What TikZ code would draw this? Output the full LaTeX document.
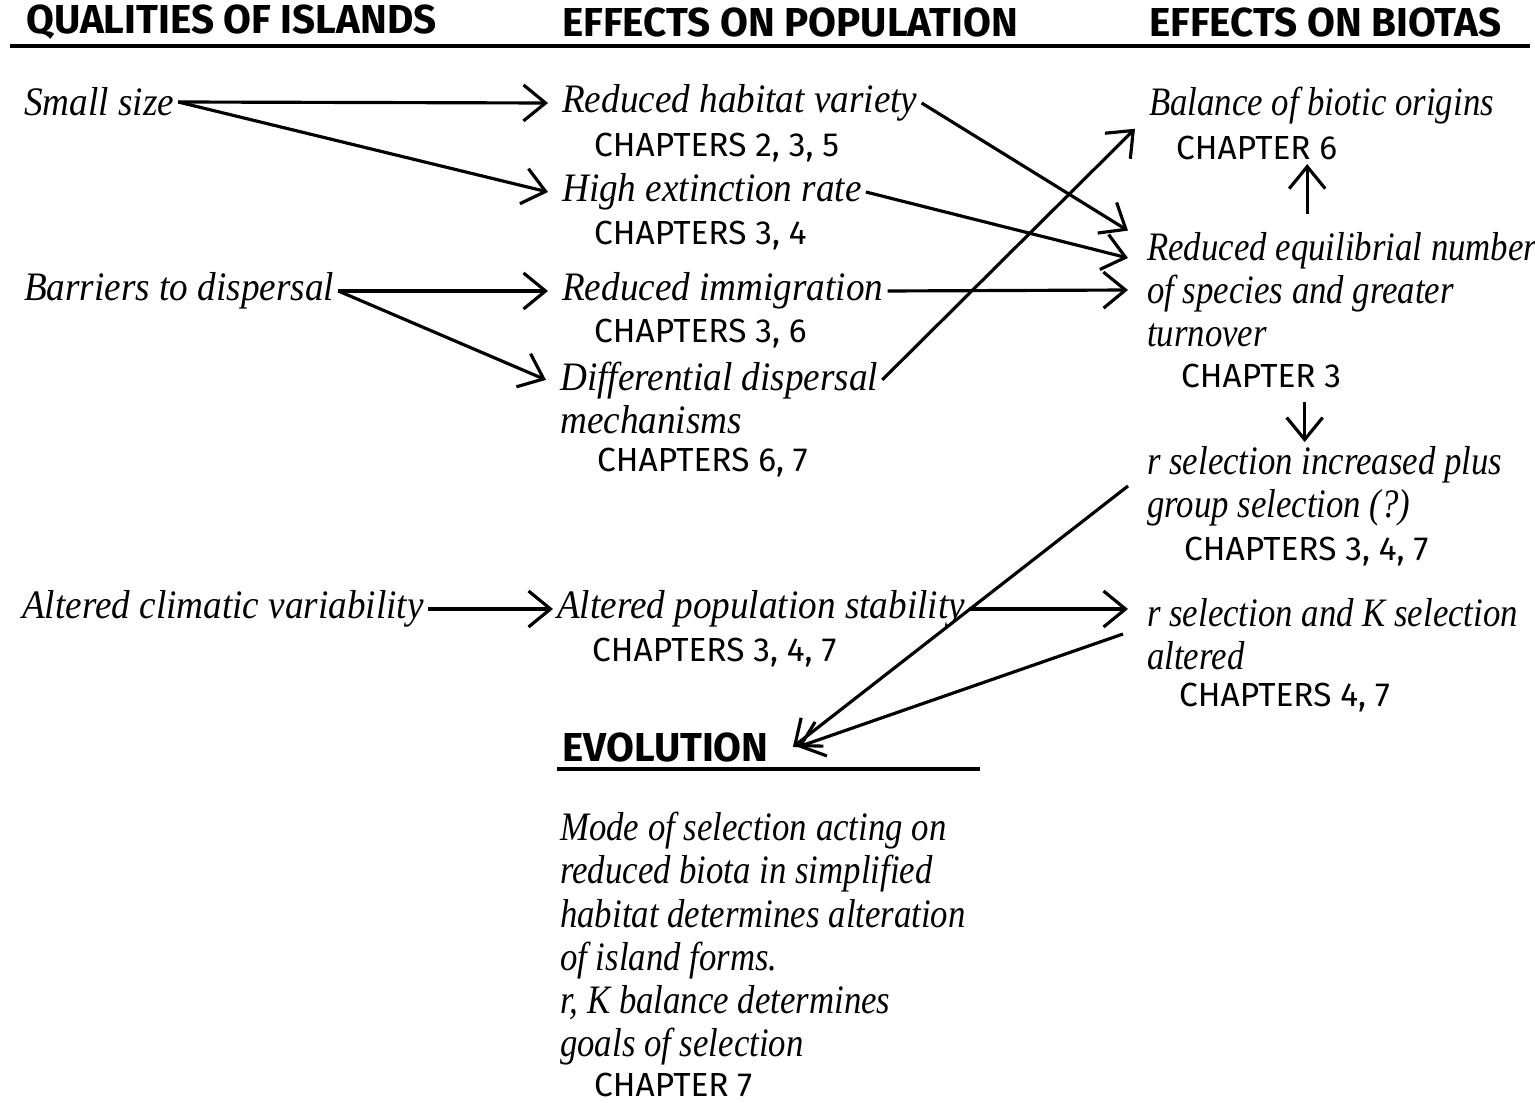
\documentclass[tikz,border=0pt]{standalone}
\usepackage{fontspec}
\newfontfamily\capsfont{Fira Sans}
\newfontfamily\handfont[FakeStretch=0.92]{Liberation Serif}
\newfontfamily\handnarrow[FakeStretch=0.86]{Liberation Serif}
\usetikzlibrary{arrows.meta,calc,positioning}
\tikzset{
  quality/.style={anchor=west,inner sep=1pt,font=\handfont\itshape\fontsize{11.5}{12.2}\selectfont,align=left},
  biota/.style={quality,font=\handnarrow\itshape\fontsize{11.5}{12.2}\selectfont},
  chap/.style={anchor=west,inner sep=1pt,font=\capsfont\fontsize{9.5}{11}\selectfont},
  head/.style={anchor=west,inner sep=1pt,font=\capsfont\bfseries\fontsize{11.5}{13}\selectfont},
  arr/.style={-{Straight Barb[length=2.2mm,width=3.6mm]},line width=.9pt},
  rule/.style={line width=1.4pt},
}

\begin{document}
\begin{tikzpicture}
  \useasboundingbox (0,0) rectangle (15.35,-11.03);
  % column heads
  \node[head] (hqual) at (0.22,-0.22) {QUALITIES OF ISLANDS};
  \node[head] (hpop) at (5.58,-0.22) {EFFECTS ON POPULATION};
  \node[head] (hbio) at (11.45,-0.22) {EFFECTS ON BIOTAS};
  \draw[rule] (0.10,-0.46) -- (15.30,-0.46);
  % qualities
  \node[quality] (small) at (0.20,-1.02) {Small size};
  \node[quality] (barrier) at (0.20,-2.91) {Barriers to dispersal};
  \node[quality] (climate) at (0.18,-6.09) {Altered climatic variability};
  % effects on population
  \node[quality] (habvar) at (5.58,-1.03) {Reduced habitat variety};
  \node[chap] (chhab) at (5.90,-1.48) {CHAPTERS 2, 3, 5};
  \node[quality] (extinct) at (5.58,-1.92) {High extinction rate};
  \node[chap] (chext) at (5.90,-2.36) {CHAPTERS 3, 4};
  \node[quality] (immig) at (5.58,-2.91) {Reduced immigration};
  \node[chap] (chimm) at (5.90,-3.34) {CHAPTERS 3, 6};
  \node[quality] (dispmech) at (5.56,-3.98) {Differential dispersal\\mechanisms};
  \node[chap] (chdisp) at (5.93,-4.63) {CHAPTERS 6, 7};
  \node[quality] (popstab) at (5.53,-6.09) {Altered population stability};
  \node[chap] (chpop) at (5.88,-6.53) {CHAPTERS 3, 4, 7};
  % effects on biotas
  \node[biota] (balance) at (11.45,-1.06) {Balance of biotic origins};
  \node[chap] (chbal) at (11.72,-1.48) {CHAPTER 6};
  \node[biota] (equil) at (11.43,-2.90) {Reduced equilibrial number\\of species and greater\\turnover};
  \node[chap] (chequ) at (11.77,-3.76) {CHAPTER 3};
  \node[biota] (rsel) at (11.43,-4.86) {r selection increased plus\\group selection (?)};
  \node[chap] (chrsel) at (11.80,-5.52) {CHAPTERS 3, 4, 7};
  \node[biota] (rksel) at (11.43,-6.34) {r selection and K selection\\altered};
  \node[chap] (chrk) at (11.75,-6.98) {CHAPTERS 4, 7};
  % evolution
  \node[head] (evol) at (5.58,-7.47) {EVOLUTION};
  \draw[rule] (5.57,-7.69) -- (9.80,-7.69);
  \node[biota,anchor=north west,font=\handnarrow\itshape\fontsize{11.5}{12.3}\selectfont] (mode) at (5.56,-8.08) {Mode of selection acting on\\reduced biota in simplified\\habitat determines alteration\\of island forms.\\r, K balance determines\\goals of selection};
  \node[chap] (chmode) at (5.90,-10.85) {CHAPTER 7};
  % arrows
  \draw[arr] (small.east) -- ([xshift=-1mm]habvar.west);
  \draw[arr] (small.east) -- ([xshift=-1mm]extinct.west);
  \draw[arr] (barrier.east) -- ([xshift=-1mm]immig.west);
  \draw[arr] (barrier.east) -- ($(dispmech.north west)+(-0.1,-0.22)$);
  \draw[arr] (climate.east) -- (popstab.west);
  \draw[arr] (habvar.east) -- ($(equil.north west)+(-0.15,-0.02)$);
  \draw[arr] (extinct.east) -- ($(equil.west)+(-0.15,0.32)$);
  \draw[arr] (immig.east) -- ([xshift=-1.5mm]equil.west);
  \draw[arr] ($(dispmech.north east)+(0,-0.22)$) -- ([xshift=-1mm]balance.south west);
  \draw[arr] (popstab.east) -- ($(popstab.east -| rksel.west)+(-0.15,0)$);
  \draw[arr] ([xshift=-1.5mm]rsel.west) -- ([xshift=2mm]evol.east);
  \draw[arr] ([xshift=-2mm]rksel.west) -- ([xshift=2.5mm]evol.east);
  \draw[arr,shorten <=1.5mm] ([xshift=-3.5mm]equil.north) -- ([xshift=-3.5mm]equil.north |- chbal.south);
  \draw[arr,shorten <=1mm] ([xshift=-2mm]rsel.north |- chequ.south) -- ([xshift=-2mm]rsel.north);
\end{tikzpicture}
\end{document}
